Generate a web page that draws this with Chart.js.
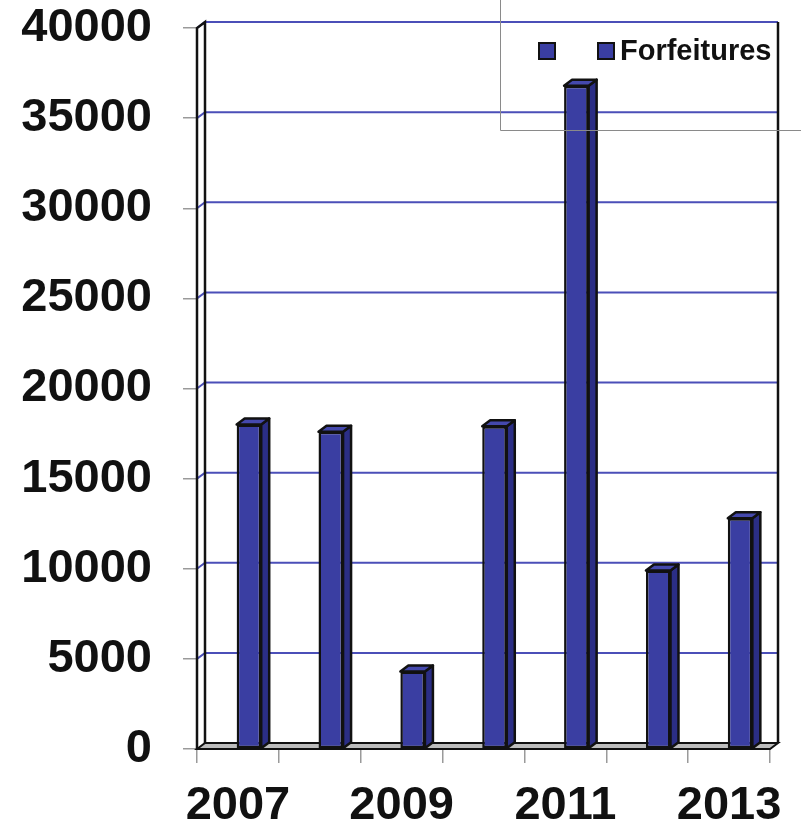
<!DOCTYPE html>
<html>
<head>
<meta charset="utf-8">
<script src="https://cdn.jsdelivr.net/npm/chart.js@4"></script>
<style>
  html, body { margin: 0; padding: 0; background: #fff; }
  #chart { display: block; }
</style>
</head>
<body>
<canvas id="chart" width="801" height="827"></canvas>
<script>
// ===== Data =====
const years = ['2007', '2008', '2009', '2010', '2011', '2012', '2013'];
const forfeitures = [18000, 17600, 4300, 17900, 36800, 9900, 12800];
const legendLabels = ['', 'Forfeitures'];
const yMin = 0;
const yMax = 40000;
const yStep = 5000;

// ===== Look =====
const FONT = "'Liberation Sans', Arial, sans-serif";
const DX = 8;        // depth of the 3D walls, to the right
const DY = -6;       // depth of the 3D walls, upwards
const BAR_SHIFT = 11; // bars sit halfway into the depth
const BAR_FRONT = '#3a3ea2';
const BAR_SIDE = '#2b2e85';
const BAR_TOP = '#4549ad';
const GRID_BLUE = '#4b4fb8';

const walls = {
    id: 'walls',
    beforeDatasetsDraw(chart) {
        const { ctx, chartArea: a, scales: { y } } = chart;
        ctx.save();

        // floor
        ctx.beginPath();
        ctx.moveTo(a.left, a.bottom);
        ctx.lineTo(a.left + DX, a.bottom + DY);
        ctx.lineTo(a.right + DX, a.bottom + DY);
        ctx.lineTo(a.right, a.bottom);
        ctx.closePath();
        ctx.fillStyle = '#bdbdbd';
        ctx.fill();
        ctx.lineWidth = 2;
        ctx.strokeStyle = '#111';
        ctx.stroke();

        // back wall grid lines
        ctx.strokeStyle = GRID_BLUE;
        ctx.lineWidth = 2;
        y.ticks.forEach(t => {
            if (t.value <= yMin) return;
            const yy = y.getPixelForValue(t.value);
            ctx.beginPath();
            ctx.moveTo(a.left, yy);
            ctx.lineTo(a.left + DX, yy + DY);
            ctx.lineTo(a.right + DX, yy + DY);
            ctx.stroke();
        });

        // left wall edges and right back edge
        ctx.strokeStyle = '#111';
        ctx.lineWidth = 2.5;
        ctx.beginPath();
        ctx.moveTo(a.left, a.bottom);
        ctx.lineTo(a.left, a.top);
        ctx.lineTo(a.left + DX, a.top + DY);
        ctx.lineTo(a.left + DX, a.bottom + DY);
        ctx.moveTo(a.right + DX, a.top + DY);
        ctx.lineTo(a.right + DX, a.bottom + DY);
        ctx.stroke();

        ctx.restore();

        // shift the bars into the middle of the depth
        ctx.save();
        ctx.translate(BAR_SHIFT, 0);
    },
    afterDatasetsDraw(chart) {
        const { ctx } = chart;
        ctx.restore();

        ctx.save();
        ctx.lineWidth = 2.5;
        ctx.strokeStyle = '#111';
        ctx.lineJoin = 'round';
        chart.getDatasetMeta(0).data.forEach(bar => {
            const { x, y, width, base } = bar.getProps(['x', 'y', 'width', 'base'], true);
            const x0 = x - width / 2 + BAR_SHIFT;
            const x1 = x + width / 2 + BAR_SHIFT;

            // side face
            ctx.beginPath();
            ctx.moveTo(x1, y);
            ctx.lineTo(x1 + DX, y + DY);
            ctx.lineTo(x1 + DX, base + DY);
            ctx.lineTo(x1, base);
            ctx.closePath();
            ctx.fillStyle = BAR_SIDE;
            ctx.fill();
            ctx.stroke();

            // top face
            ctx.beginPath();
            ctx.moveTo(x0, y);
            ctx.lineTo(x0 + DX, y + DY);
            ctx.lineTo(x1 + DX, y + DY);
            ctx.lineTo(x1, y);
            ctx.closePath();
            ctx.fillStyle = BAR_TOP;
            ctx.fill();
            ctx.stroke();
        });
        ctx.restore();
    },
    afterDraw(chart) {
        const { ctx } = chart;
        ctx.save();

        // legend frame
        ctx.strokeStyle = '#8a8a8a';
        ctx.lineWidth = 1;
        ctx.beginPath();
        ctx.moveTo(500.5, 0);
        ctx.lineTo(500.5, 130.5);
        ctx.lineTo(801, 130.5);
        ctx.stroke();

        // legend entries
        const swatchX = [539, 598];
        ctx.font = 'bold 29px ' + FONT;
        ctx.textBaseline = 'middle';
        legendLabels.forEach((label, i) => {
            ctx.fillStyle = BAR_FRONT;
            ctx.fillRect(swatchX[i], 43, 16, 16);
            ctx.strokeStyle = '#111';
            ctx.lineWidth = 2;
            ctx.strokeRect(swatchX[i], 43, 16, 16);
            if (label) {
                ctx.fillStyle = '#111';
                ctx.fillText(label, swatchX[i] + 22, 52);
            }
        });
        ctx.restore();
    }
};

new Chart(document.getElementById('chart'), {
    type: 'bar',
    data: {
        labels: years,
        datasets: [{
            label: 'Forfeitures',
            data: forfeitures,
            backgroundColor: BAR_FRONT,
            borderColor: '#111',
            borderWidth: 2.5,
            borderSkipped: false,
            barPercentage: 0.3,
            categoryPercentage: 1
        }]
    },
    options: {
        responsive: false,
        animation: false,
        devicePixelRatio: 1,
        layout: { padding: { top: 0, right: 31, left: 0, bottom: 0 } },
        plugins: {
            legend: { display: false },
            tooltip: { enabled: false }
        },
        scales: {
            x: {
                grid: {
                    offset: true,
                    drawOnChartArea: false,
                    drawTicks: true,
                    tickLength: 14,
                    color: '#9a9a9a',
                    lineWidth: 1.5
                },
                border: { display: false },
                ticks: {
                    autoSkip: false,
                    maxRotation: 0,
                    padding: 15,
                    color: '#111',
                    font: { family: FONT, size: 47, weight: 'bold', lineHeight: 1.2 },
                    callback: (v, i) => (i % 2 === 0 ? years[i] : '')
                },
                afterFit: scale => { scale.height = 78; }
            },
            y: {
                min: yMin,
                max: yMax,
                ticks: {
                    stepSize: yStep,
                    padding: 31,
                    color: '#111',
                    font: { family: FONT, size: 47, weight: 'bold', lineHeight: 1.2 },
                    callback: v => String(v)
                },
                grid: {
                    drawOnChartArea: false,
                    drawTicks: true,
                    tickLength: 14,
                    color: '#9a9a9a',
                    lineWidth: 1.5
                },
                border: { display: false },
                afterFit: scale => {
                    scale.width = 197;
                    scale.paddingTop = 28;
                    scale.paddingBottom = 0;
                }
            }
        }
    },
    plugins: [walls]
});
</script>
</body>
</html>
